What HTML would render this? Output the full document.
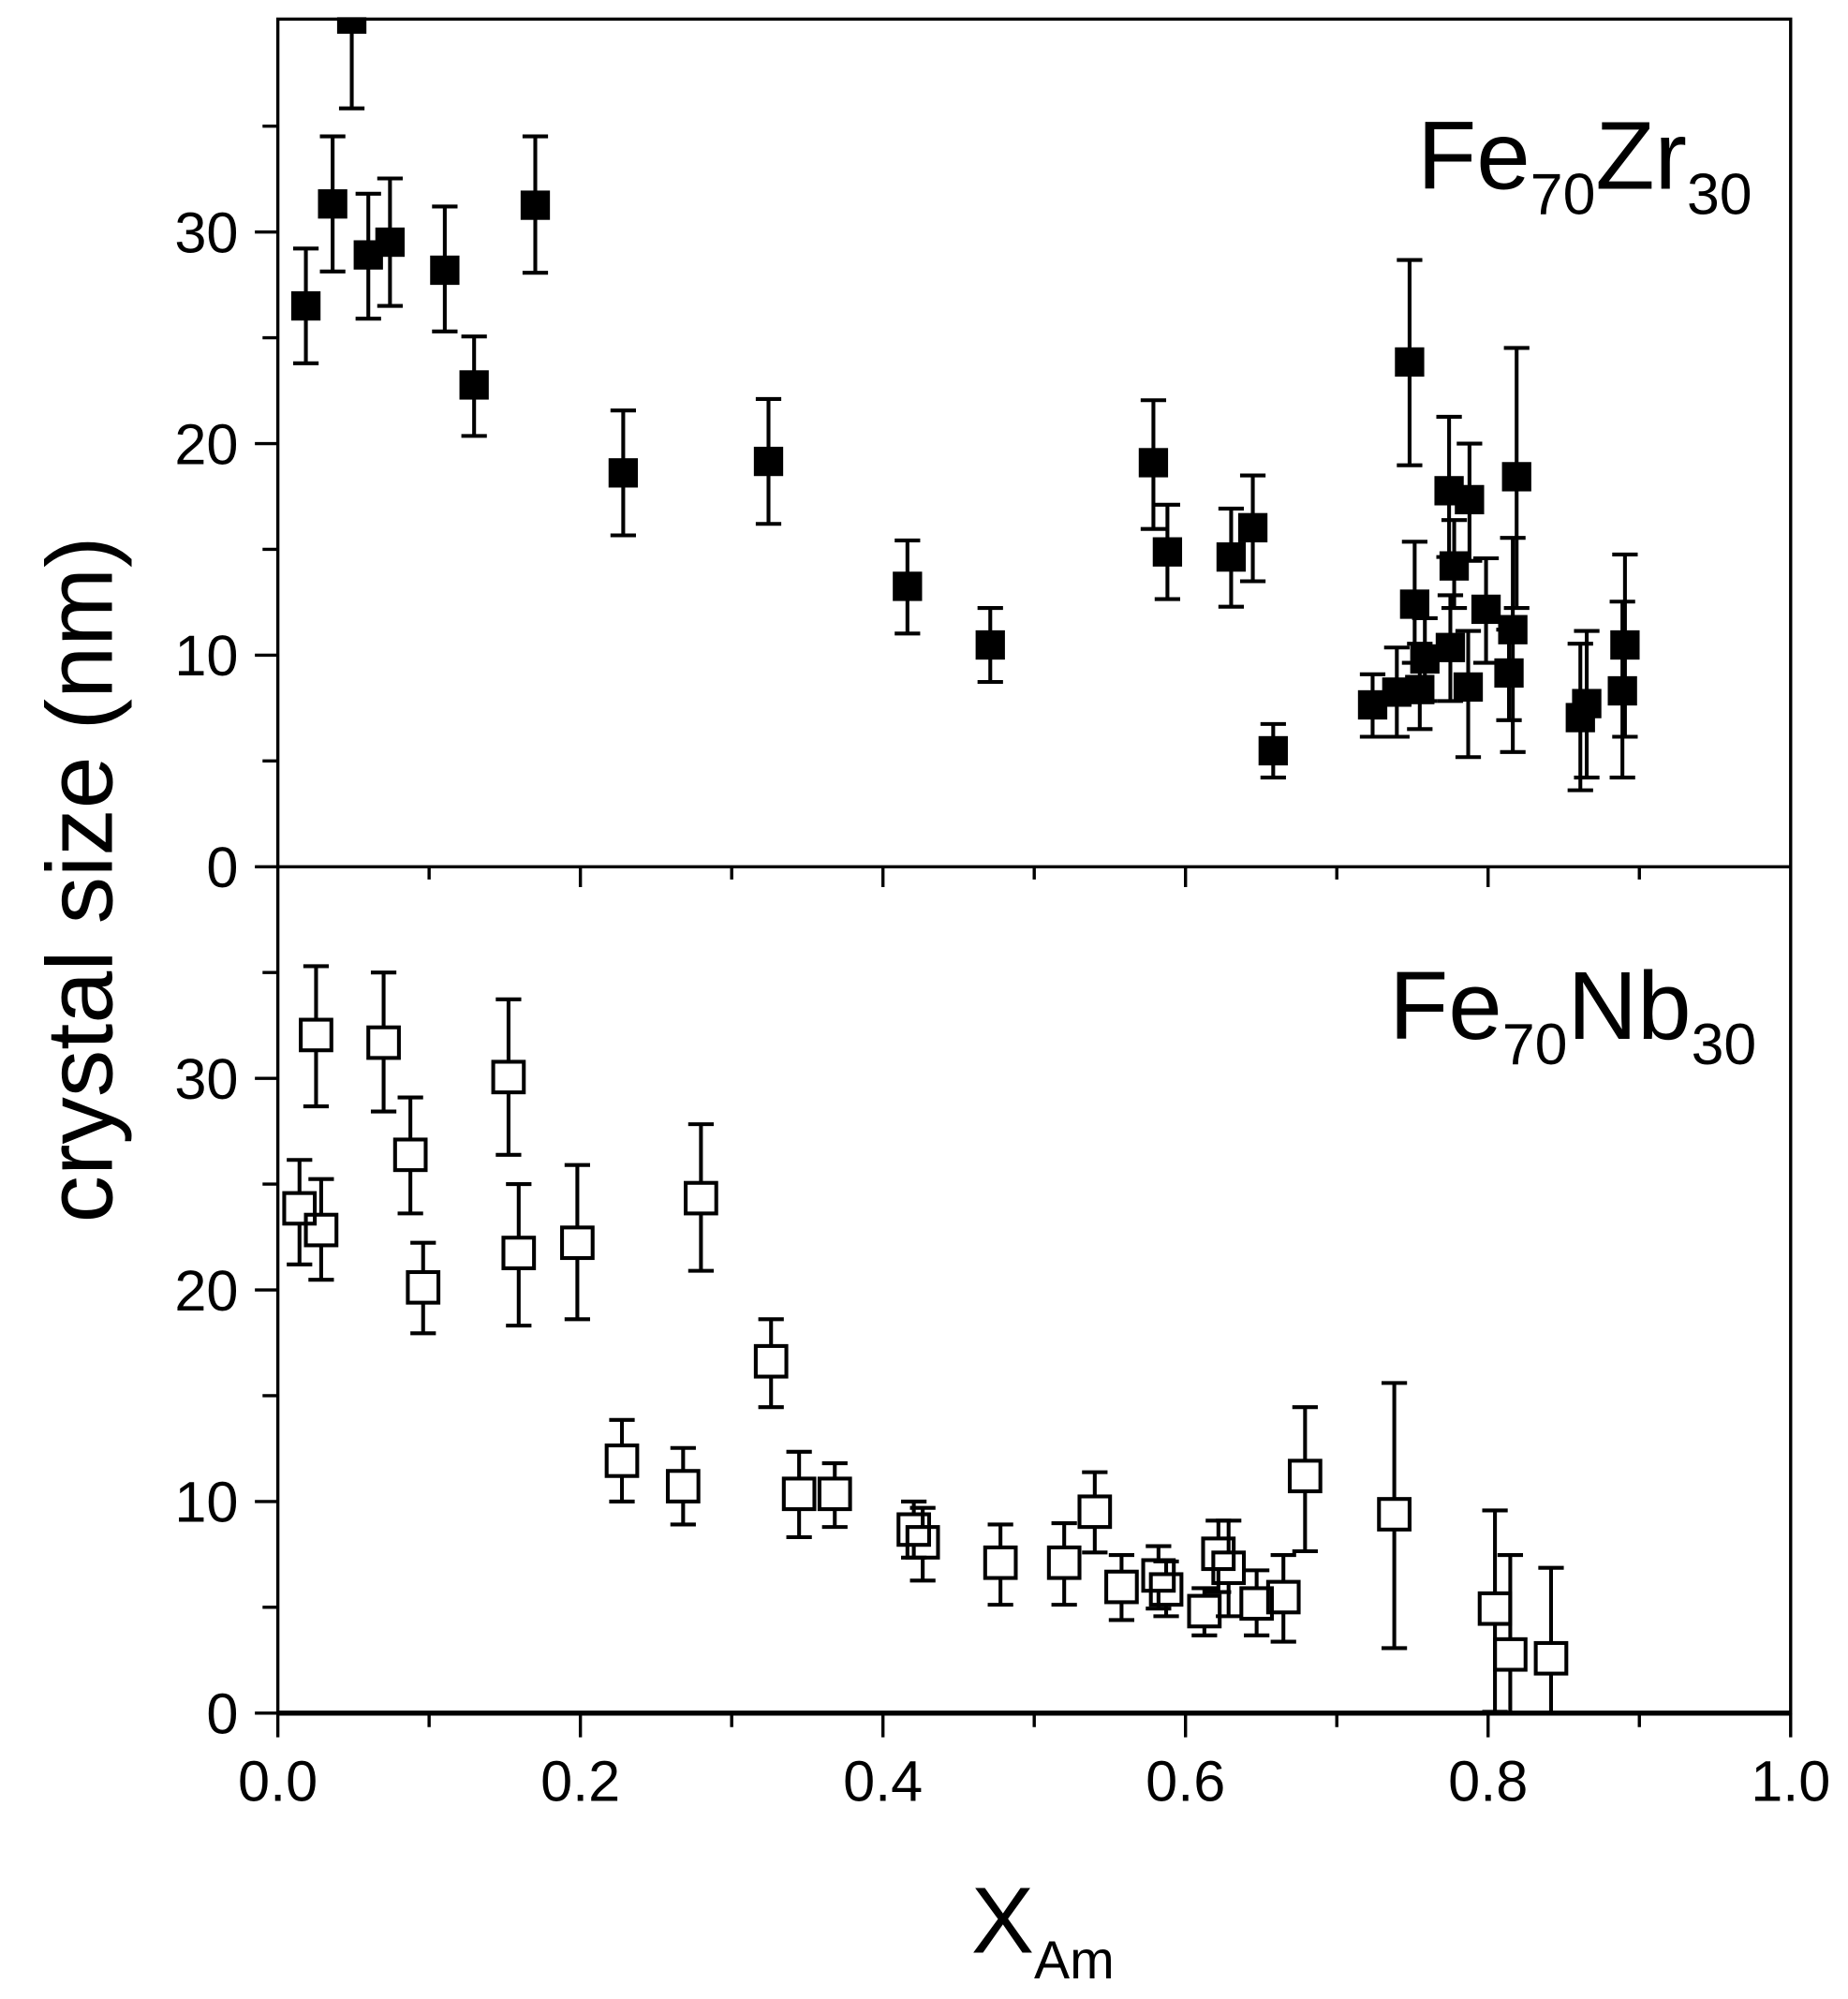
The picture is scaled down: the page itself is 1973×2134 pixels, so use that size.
<!DOCTYPE html>
<html><head><meta charset="utf-8"><style>html,body{margin:0;padding:0;background:#fff}svg{display:block}</style></head>
<body>
<svg width="1973" height="2134" viewBox="0 0 1450 1568.3" preserveAspectRatio="none" xmlns="http://www.w3.org/2000/svg" font-family="Liberation Sans, Arial, sans-serif">
<rect x="0" y="0" width="1450" height="1568.3" fill="#fff"/>
<g stroke="#000" stroke-width="2.5" fill="none">
<rect x="218" y="15" width="1187" height="1329"/>
<line x1="218" y1="680" x2="1405" y2="680"/>
<line x1="218" y1="1344" x2="1405" y2="1344" stroke-width="4"/>
<path d="M200 680H218M200 514H218M200 348H218M200 182H218M206 597H218M206 431H218M206 265H218M206 99H218"/>
<path d="M200 1344H218M200 1178H218M200 1012H218M200 846H218M206 1261H218M206 1095H218M206 929H218M206 763H218"/>
<path d="M218 1344V1363M455.4 1344V1363M692.8 1344V1363M930.2 1344V1363M1167.6 1344V1363M1405 1344V1363M336.7 1344V1355M574.1 1344V1355M811.5 1344V1355M1048.9 1344V1355M1286.3 1344V1355"/>
<path d="M455.4 680V696M692.8 680V696M930.2 680V696M1167.6 680V696M336.7 680V690M574.1 680V690M811.5 680V690M1048.9 680V690M1286.3 680V690"/>
</g>
<g font-size="45" text-anchor="end" fill="#000">
<text x="187" y="696">0</text><text x="187" y="530">10</text><text x="187" y="364">20</text><text x="187" y="198">30</text>
<text x="187" y="1360">0</text><text x="187" y="1194">10</text><text x="187" y="1028">20</text><text x="187" y="862">30</text>
</g>
<g font-size="45" text-anchor="middle" fill="#000">
<text x="218" y="1413">0.0</text><text x="455.4" y="1413">0.2</text><text x="692.8" y="1413">0.4</text><text x="930.2" y="1413">0.6</text><text x="1167.6" y="1413">0.8</text><text x="1405" y="1413">1.0</text>
</g>
<text transform="translate(88,690) rotate(-90)" font-size="74" text-anchor="middle" fill="#000">crystal size (nm)</text>
<text x="762" y="1532" font-size="74" fill="#000">X<tspan font-size="42" dy="20">Am</tspan></text>
<text x="1112" y="148" font-size="76" fill="#000">Fe<tspan font-size="46" dy="20">70</tspan><tspan dy="-20">Zr</tspan><tspan font-size="46" dy="20">30</tspan></text>
<text x="1090" y="815" font-size="76" fill="#000">Fe<tspan font-size="46" dy="20">70</tspan><tspan dy="-20">Nb</tspan><tspan font-size="46" dy="20">30</tspan></text>
<g stroke="#000" stroke-width="3" fill="#000">
<path d="M240 195V285M230 195H250M230 285H250"/><rect x="230" y="230" width="20" height="20"/>
<path d="M261 107V213M251 107H271M251 213H271"/><rect x="251" y="150" width="20" height="20"/>
<path d="M276 15V85M266 85H286"/><rect x="266" y="15" width="20" height="10"/>
<path d="M289 152V250M279 152H299M279 250H299"/><rect x="279" y="190" width="20" height="20"/>
<path d="M306 140V240M296 140H316M296 240H316"/><rect x="296" y="180" width="20" height="20"/>
<path d="M349 162V260M339 162H359M339 260H359"/><rect x="339" y="202" width="20" height="20"/>
<path d="M372 264V342M362 264H382M362 342H382"/><rect x="362" y="292" width="20" height="20"/>
<path d="M420 107V214M410 107H430M410 214H430"/><rect x="410" y="151" width="20" height="20"/>
<path d="M489 322V420M479 322H499M479 420H499"/><rect x="479" y="361" width="20" height="20"/>
<path d="M603 313V411M593 313H613M593 411H613"/><rect x="593" y="352" width="20" height="20"/>
<path d="M712 424V497M702 424H722M702 497H722"/><rect x="702" y="450" width="20" height="20"/>
<path d="M777 477V535M767 477H787M767 535H787"/><rect x="767" y="496" width="20" height="20"/>
<path d="M905 314V415M895 314H915M895 415H915"/><rect x="895" y="353" width="20" height="20"/>
<path d="M916 396V470M906 396H926M906 470H926"/><rect x="906" y="423" width="20" height="20"/>
<path d="M966 399V476M956 399H976M956 476H976"/><rect x="956" y="427" width="20" height="20"/>
<path d="M983 373V456M973 373H993M973 456H993"/><rect x="973" y="404" width="20" height="20"/>
<path d="M999 568V610M989 568H1009M989 610H1009"/><rect x="989" y="579" width="20" height="20"/>
<path d="M1077 529V578M1067 529H1087M1067 578H1087"/><rect x="1067" y="543" width="20" height="20"/>
<path d="M1096 508V578M1086 508H1106M1086 578H1106"/><rect x="1086" y="533" width="20" height="20"/>
<path d="M1106 204V365M1096 204H1116M1096 365H1116"/><rect x="1096" y="274" width="20" height="20"/>
<path d="M1110 425V520M1100 425H1120M1100 520H1120"/><rect x="1100" y="464" width="20" height="20"/>
<path d="M1114 505V572M1104 505H1124M1104 572H1124"/><rect x="1104" y="531" width="20" height="20"/>
<path d="M1118 485V550M1108 485H1128M1108 550H1128"/><rect x="1108" y="507" width="20" height="20"/>
<path d="M1137 327V437M1127 327H1147M1127 437H1147"/><rect x="1127" y="375" width="20" height="20"/>
<path d="M1138 467V550M1128 467H1148M1128 550H1148"/><rect x="1128" y="498" width="20" height="20"/>
<path d="M1141 408V477M1131 408H1151M1131 477H1151"/><rect x="1131" y="434" width="20" height="20"/>
<path d="M1153 348V440M1143 348H1163M1143 440H1163"/><rect x="1143" y="382" width="20" height="20"/>
<path d="M1152 495V594M1142 495H1162M1142 594H1162"/><rect x="1142" y="529" width="20" height="20"/>
<path d="M1166 438V520M1156 438H1176M1156 520H1176"/><rect x="1156" y="468" width="20" height="20"/>
<path d="M1184 494V565M1174 494H1194M1174 565H1194"/><rect x="1174" y="518" width="20" height="20"/>
<path d="M1187 422V590M1177 422H1197M1177 590H1197"/><rect x="1177" y="484" width="20" height="20"/>
<path d="M1190 273V477M1180 273H1200M1180 477H1200"/><rect x="1180" y="364" width="20" height="20"/>
<path d="M1240 505V620M1230 505H1250M1230 620H1250"/><rect x="1230" y="553" width="20" height="20"/>
<path d="M1245 495V610M1235 495H1255M1235 610H1255"/><rect x="1235" y="542" width="20" height="20"/>
<path d="M1273 472V610M1263 472H1283M1263 610H1283"/><rect x="1263" y="532" width="20" height="20"/>
<path d="M1275 435V578M1265 435H1285M1265 578H1285"/><rect x="1265" y="496" width="20" height="20"/>
</g>
<g stroke="#000" stroke-width="3" fill="none">
<path d="M235 910V936M235 960V992M225 910H245M225 992H245"/><rect x="223" y="936" width="24" height="24"/>
<path d="M248 758V800M248 824V868M238 758H258M238 868H258"/><rect x="236" y="800" width="24" height="24"/>
<path d="M252 925V953M252 977V1004M242 925H262M242 1004H262"/><rect x="240" y="953" width="24" height="24"/>
<path d="M301 763V806M301 830V872M291 763H311M291 872H311"/><rect x="289" y="806" width="24" height="24"/>
<path d="M322 861V894M322 918V952M312 861H332M312 952H332"/><rect x="310" y="894" width="24" height="24"/>
<path d="M332 975V998M332 1022V1046M322 975H342M322 1046H342"/><rect x="320" y="998" width="24" height="24"/>
<path d="M399 784V833M399 857V906M389 784H409M389 906H409"/><rect x="387" y="833" width="24" height="24"/>
<path d="M407 929V971M407 995V1040M397 929H417M397 1040H417"/><rect x="395" y="971" width="24" height="24"/>
<path d="M453 914V963M453 987V1035M443 914H463M443 1035H463"/><rect x="441" y="963" width="24" height="24"/>
<path d="M488 1114V1134M488 1158V1178M478 1114H498M478 1178H498"/><rect x="476" y="1134" width="24" height="24"/>
<path d="M536 1136V1154M536 1178V1196M526 1136H546M526 1196H546"/><rect x="524" y="1154" width="24" height="24"/>
<path d="M550 882V928M550 952V997M540 882H560M540 997H560"/><rect x="538" y="928" width="24" height="24"/>
<path d="M605 1035V1056M605 1080V1104M595 1035H615M595 1104H615"/><rect x="593" y="1056" width="24" height="24"/>
<path d="M627 1139V1160M627 1184V1206M617 1139H637M617 1206H637"/><rect x="615" y="1160" width="24" height="24"/>
<path d="M655 1148V1160M655 1184V1198M645 1148H665M645 1198H665"/><rect x="643" y="1160" width="24" height="24"/>
<path d="M717 1178V1188M717 1212V1222M707 1178H727M707 1222H727"/><rect x="705" y="1188" width="24" height="24"/>
<path d="M724 1183V1198M724 1222V1240M714 1183H734M714 1240H734"/><rect x="712" y="1198" width="24" height="24"/>
<path d="M785 1196V1214M785 1238V1259M775 1196H795M775 1259H795"/><rect x="773" y="1214" width="24" height="24"/>
<path d="M835 1195V1214M835 1238V1259M825 1195H845M825 1259H845"/><rect x="823" y="1214" width="24" height="24"/>
<path d="M859 1155V1174M859 1198V1218M849 1155H869M849 1218H869"/><rect x="847" y="1174" width="24" height="24"/>
<path d="M880 1220V1233M880 1257V1271M870 1220H890M870 1271H890"/><rect x="868" y="1233" width="24" height="24"/>
<path d="M909 1213V1224M909 1248V1262M899 1213H919M899 1262H919"/><rect x="897" y="1224" width="24" height="24"/>
<path d="M915 1225V1235M915 1259V1268M905 1225H925M905 1268H925"/><rect x="903" y="1235" width="24" height="24"/>
<path d="M945 1246V1252M945 1276V1283M935 1246H955M935 1283H955"/><rect x="933" y="1252" width="24" height="24"/>
<path d="M956 1193V1207M956 1231V1249M946 1193H966M946 1249H966"/><rect x="944" y="1207" width="24" height="24"/>
<path d="M964 1193V1218M964 1242V1268M954 1193H974M954 1268H974"/><rect x="952" y="1218" width="24" height="24"/>
<path d="M986 1232V1246M986 1270V1283M976 1232H996M976 1283H996"/><rect x="974" y="1246" width="24" height="24"/>
<path d="M1007 1220V1241M1007 1265V1288M997 1220H1017M997 1288H1017"/><rect x="995" y="1241" width="24" height="24"/>
<path d="M1024 1104V1146M1024 1170V1217M1014 1104H1034M1014 1217H1034"/><rect x="1012" y="1146" width="24" height="24"/>
<path d="M1094 1085V1176M1094 1200V1293M1084 1085H1104M1084 1293H1104"/><rect x="1082" y="1176" width="24" height="24"/>
<path d="M1173 1185V1250M1173 1274V1343M1163 1185H1183M1163 1343H1183"/><rect x="1161" y="1250" width="24" height="24"/>
<path d="M1185 1220V1286M1185 1310V1344M1175 1220H1195"/><rect x="1173" y="1286" width="24" height="24"/>
<path d="M1217 1230V1289M1217 1313V1344M1207 1230H1227"/><rect x="1205" y="1289" width="24" height="24"/>
</g>
</svg>
</body></html>
